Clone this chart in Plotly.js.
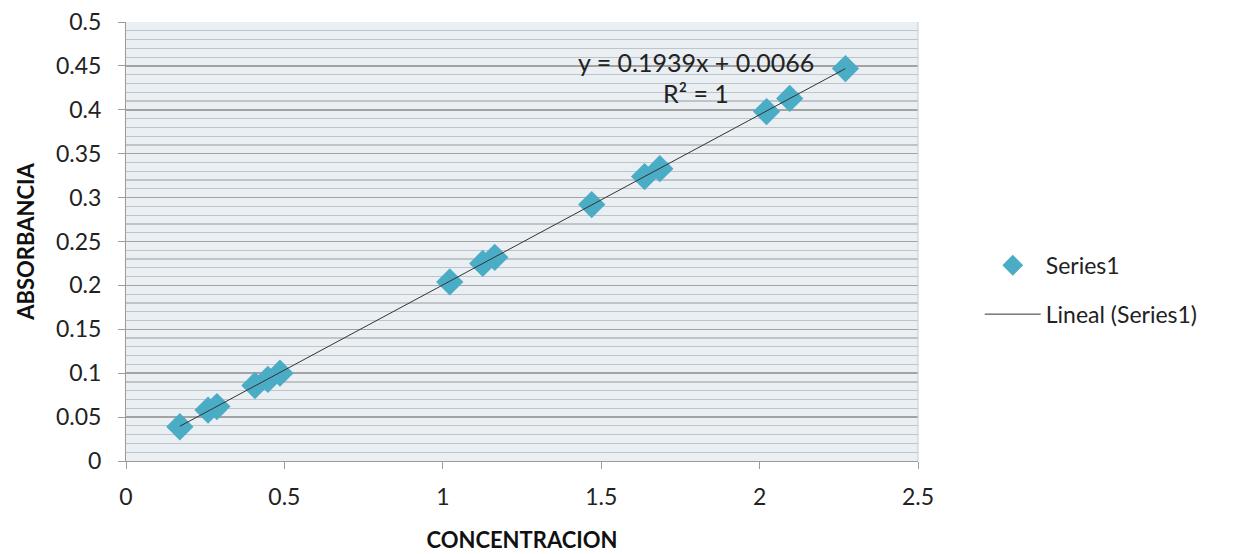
<!DOCTYPE html>
<html>
<head>
<meta charset="utf-8">
<script src="https://cdn.plot.ly/plotly-3.0.1.min.js"></script>
<style>html,body{margin:0;padding:0;background:#fff;}#chart{width:1244px;height:554px;}</style>
</head>
<body>
<div id="chart"></div>
<script>
const concentracion = [0.170, 0.259, 0.287, 0.407, 0.448, 0.486, 1.022, 1.126, 1.164, 1.470, 1.637, 1.685, 2.022, 2.095, 2.271];
const absorbancia   = [0.039, 0.058, 0.062, 0.086, 0.093, 0.100, 0.204, 0.225, 0.232, 0.292, 0.324, 0.333, 0.398, 0.413, 0.447];
const slope = 0.1939;
const intercept = 0.0066;
const trendX = [Math.min(...concentracion), Math.max(...concentracion)];
const trendY = trendX.map(x => slope * x + intercept);
const xTickVals = [0, 0.5, 1, 1.5, 2, 2.5];
const xTickText = ['0', '0.5', '1', '1.5', '2', '2.5'];
const yTickVals = [0, 0.05, 0.1, 0.15, 0.2, 0.25, 0.3, 0.35, 0.4, 0.45, 0.5];
const yTickText = ['0', '0.05', '0.1', '0.15', '0.2', '0.25', '0.3', '0.35', '0.4', '0.45', '0.5'];

const FONT = 'Lato, "Open Sans", sans-serif';

const traces = [
  {
    x: concentracion, y: absorbancia, type: 'scatter', mode: 'markers', name: 'Series1',
    legendgroup: 'g1',
    marker: {symbol: 'diamond', size: 21, color: '#4bacc6', line: {width: 0}}
  },
  {
    x: trendX, y: trendY, type: 'scatter', mode: 'lines', name: 'Lineal (Series1)',
    legendgroup: 'g2',
    line: {color: '#333333', width: 1}
  }
];

const layout = {
  width: 1244, height: 554,
  margin: {l: 126, r: 326, t: 22, b: 93},
  paper_bgcolor: '#ffffff',
  plot_bgcolor: '#e9eff3',
  font: {family: FONT, size: 23, color: '#222222'},
  showlegend: true,
  legend: {
    x: 1.078, y: 0.39, xanchor: 'left', yanchor: 'middle',
    traceorder: 'grouped',
    font: {family: FONT, size: 23, color: '#222222'},
    tracegroupgap: 16, itemwidth: 56
  },
  xaxis: {
    range: [0, 2.5], tickvals: xTickVals, ticktext: xTickText,
    showgrid: false, zeroline: false,
    showline: true, linecolor: '#9a9a9a', linewidth: 1,
    ticks: 'outside', ticklen: 7, tickcolor: '#9a9a9a',
    ticklabelstandoff: 8,
    tickfont: {family: FONT, size: 23, color: '#222222'},
    title: {text: '<b>CONCENTRACION</b>', font: {family: FONT, size: 22, color: '#111111'}, standoff: 24}
  },
  yaxis: {
    range: [0, 0.5], tickvals: yTickVals, ticktext: yTickText,
    showgrid: true, gridcolor: '#a3a3a3', gridwidth: 1.5,
    zeroline: false,
    showline: true, linecolor: '#9a9a9a', linewidth: 1,
    ticks: 'outside', ticklen: 7, tickcolor: '#9a9a9a',
    ticklabelstandoff: 12,
    tickfont: {family: FONT, size: 23, color: '#222222'},
    minor: {dtick: 0.01, showgrid: true, gridcolor: '#c0c4c7', gridwidth: 1.2, ticks: ''},
    title: {text: '<b>ABSORBANCIA</b>', font: {family: FONT, size: 22, color: '#111111'}, standoff: 15}
  },
  shapes: [
    {type: 'line', xref: 'paper', yref: 'paper', x0: 1, x1: 1, y0: 0, y1: 1, line: {color: '#c8cbce', width: 1}}
  ],
  annotations: [
    {x: 1.80, y: 0.4544, xref: 'x', yref: 'y', text: 'y = 0.1939x + 0.0066', showarrow: false,
     font: {family: FONT, size: 25, color: '#222222'}, xanchor: 'center', yanchor: 'middle'},
    {x: 1.80, y: 0.419, xref: 'x', yref: 'y', text: 'R² = 1', showarrow: false,
     font: {family: FONT, size: 25, color: '#222222'}, xanchor: 'center', yanchor: 'middle'}
  ]
};

Plotly.newPlot('chart', traces, layout, {displayModeBar: false, staticPlot: true});
</script>
</body>
</html>
